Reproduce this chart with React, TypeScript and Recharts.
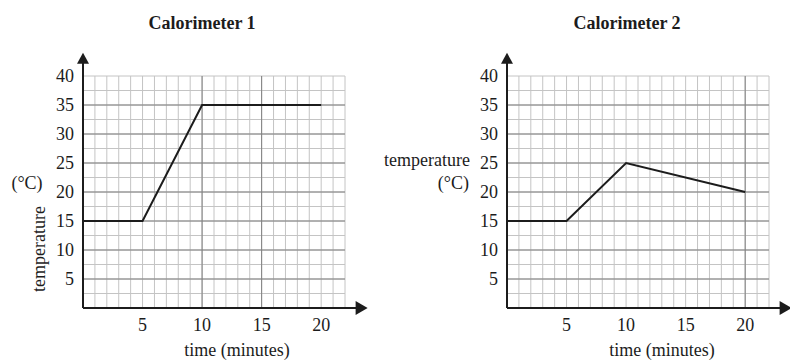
import React from 'react'
import { LineChart, Line, XAxis, YAxis, CartesianGrid, ReferenceLine, ReferenceDot } from 'recharts'

// data
const calorimeter1 = [
  { t: 0, temp: 15 },
  { t: 5, temp: 15 },
  { t: 10, temp: 35 },
  { t: 20, temp: 35 },
]
const calorimeter2 = [
  { t: 0, temp: 15 },
  { t: 5, temp: 15 },
  { t: 10, temp: 25 },
  { t: 20, temp: 20 },
]

const xTicks = Array.from({ length: 23 }, (_, i) => i) // minute grid 0..22
const yTicks = Array.from({ length: 17 }, (_, i) => i * 2.5) // 0..40 by 2.5
const xLabels = [5, 10, 15, 20]
const yLabels = [5, 10, 15, 20, 25, 30, 35, 40]
const majorY = [5, 10, 15, 20, 25, 30, 35]
const majorX1 = [10, 15]
const majorX2 = [20]

const FONT = '"Liberation Serif", "Times New Roman", serif'
const INK = '#1c1c1c'

const UpArrow = (p: any) => (
  <path d={`M${p.cx},${p.cy} L${p.cx - 6},${p.cy + 11} L${p.cx + 6},${p.cy + 11} Z`} fill={INK} />
)
const RightArrow = (p: any) => (
  <path d={`M${p.cx},${p.cy} L${p.cx - 12},${p.cy - 7} L${p.cx - 12},${p.cy + 7} Z`} fill={INK} />
)

const XTick = ({ x, y, payload }: any) =>
  xLabels.includes(payload.value) ? (
    <text x={x} y={y + 23} textAnchor="middle" style={{ fontFamily: FONT, fontSize: 18 }} fill={INK}>
      {payload.value}
    </text>
  ) : null

const YTick = ({ x, y, payload }: any) =>
  yLabels.includes(payload.value) ? (
    <text x={x} y={y + 6} textAnchor="end" style={{ fontFamily: FONT, fontSize: 18 }} fill={INK}>
      {payload.value}
    </text>
  ) : null

function Panel({ data, majorX, left }: { data: { t: number; temp: number }[]; majorX: number[]; left: number }) {
  return (
    <div style={{ position: 'absolute', left, top: 0 }}>
      <LineChart width={395} height={360} data={data} margin={{ top: 76, right: 50, bottom: 22, left: 43 }}>
        <CartesianGrid stroke="#c4c4c4" strokeWidth={1} />
        <XAxis
          type="number"
          dataKey="t"
          domain={[0, 22]}
          ticks={xTicks}
          interval={0}
          axisLine={false}
          tickLine={false}
          tickSize={0}
          tickMargin={0}
          height={30}
          tick={<XTick />}
        />
        <YAxis
          type="number"
          domain={[0, 40]}
          ticks={yTicks}
          interval={0}
          axisLine={false}
          tickLine={false}
          tickSize={0}
          tickMargin={9}
          width={40}
          tick={<YTick />}
        />
        {majorY.map((v) => (
          <ReferenceLine key={'y' + v} y={v} stroke="#808080" strokeWidth={1} />
        ))}
        {majorX.map((v) => (
          <ReferenceLine key={'x' + v} x={v} stroke="#808080" strokeWidth={1} />
        ))}
        <ReferenceLine segment={[{ x: 0, y: 0 }, { x: 0, y: 42.5 }]} stroke={INK} strokeWidth={2} ifOverflow="visible" />
        <ReferenceLine segment={[{ x: 0, y: 0 }, { x: 23, y: 0 }]} stroke={INK} strokeWidth={2} ifOverflow="visible" />
        <ReferenceDot x={0} y={44} r={0} shape={UpArrow} ifOverflow="visible" />
        <ReferenceDot x={23.9} y={0} r={0} shape={RightArrow} ifOverflow="visible" />
        <Line
          type="linear"
          dataKey="temp"
          stroke={INK}
          strokeWidth={2}
          dot={false}
          isAnimationActive={false}
        />
      </LineChart>
    </div>
  )
}

export default function App() {
  return (
    <div style={{ position: 'absolute', left: 0, top: 0, width: 790, height: 360, background: '#fff', overflow: 'hidden', fontFamily: FONT }}>
      <Panel data={calorimeter1} majorX={majorX1} left={0} />
      <Panel data={calorimeter2} majorX={majorX2} left={424} />
      <svg width={790} height={360} style={{ position: 'absolute', left: 0, top: 0, pointerEvents: 'none' }}>
        <g fontFamily={FONT} fill={INK} fontSize={18}>
          <text x={202} y={29} textAnchor="middle" fontWeight="bold">Calorimeter 1</text>
          <text x={627} y={29} textAnchor="middle" fontWeight="bold">Calorimeter 2</text>
          <text x={237} y={356} textAnchor="middle">time (minutes)</text>
          <text x={662} y={356} textAnchor="middle">time (minutes)</text>
          <text x={27} y={189} textAnchor="middle">(°C)</text>
          <text x={45} y={249} textAnchor="middle" transform="rotate(-90 45 249)">temperature</text>
          <text x={470} y={166} textAnchor="end">temperature</text>
          <text x={469} y={189} textAnchor="end">(°C)</text>
        </g>
      </svg>
    </div>
  )
}
